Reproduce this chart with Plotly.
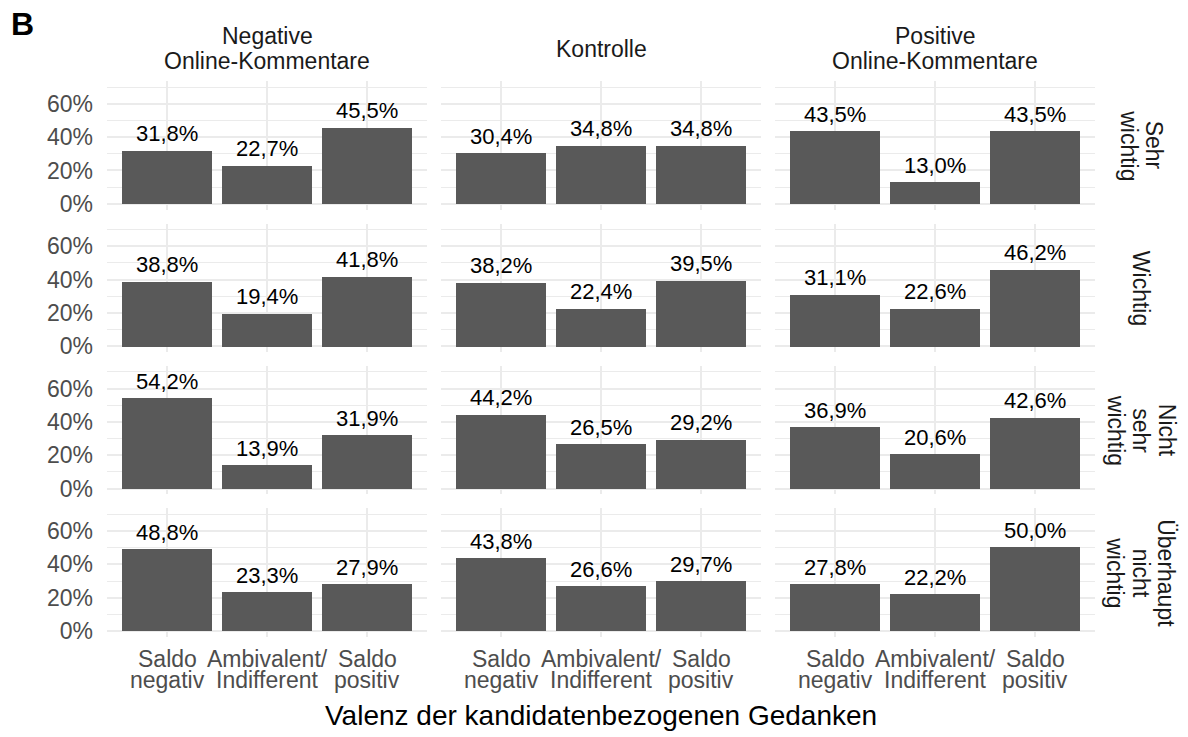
import plotly.graph_objects as go

# the page body keeps its default 8px margin; the figure is sized and offset
# so that it exactly fills the 1188x737 window
OFF = 8
W, H = 1188 - OFF, 737 - OFF

categories = ["Saldo\nnegativ", "Ambivalent/\nIndifferent", "Saldo\npositiv"]
columns = ["Negative\nOnline-Kommentare", "Kontrolle", "Positive\nOnline-Kommentare"]
rows = ["Sehr\nwichtig", "Wichtig", "Nicht\nsehr\nwichtig", "Überhaupt\nnicht\nwichtig"]
x_title = "Valenz der kandidatenbezogenen Gedanken"
panel_tag = "B"

# percentages per row (facet), per column (facet), per category
sehr_wichtig = [[31.8, 22.7, 45.5], [30.4, 34.8, 34.8], [43.5, 13.0, 43.5]]
wichtig = [[38.8, 19.4, 41.8], [38.2, 22.4, 39.5], [31.1, 22.6, 46.2]]
nicht_sehr_wichtig = [[54.2, 13.9, 31.9], [44.2, 26.5, 29.2], [36.9, 20.6, 42.6]]
ueberhaupt_nicht_wichtig = [[48.8, 23.3, 27.9], [43.8, 26.6, 29.7], [27.8, 22.2, 50.0]]
data = [sehr_wichtig, wichtig, nicht_sehr_wichtig, ueberhaupt_nicht_wichtig]

y_ticks = [0, 0.2, 0.4, 0.6]
y_minor = [0.1, 0.3, 0.5, 0.7]

FONT = "Liberation Sans, Arial, sans-serif"
BAR = "#595959"
GRID = "#ebebeb"
TICK_C = "#4d4d4d"
STRIP_C = "#1a1a1a"

col_left = [107, 441, 775]
col_w = 320
zero0, row_step = 205.7, 143.8
ymin, ymax = -0.035, 0.735
ppu = 168.4


def fx(p):
    return (p - OFF) / W


def fy(p):
    return 1 - (p - OFF) / H


fig = go.Figure()
layout = {}
annotations = []
k = 0
for r in range(4):
    z = zero0 + row_step * r
    top = z - ymax * ppu
    bot = z - ymin * ppu
    for c in range(3):
        k += 1
        xa = "x" if k == 1 else f"x{k}"
        ya = "y" if k == 1 else f"y{k}"
        vals = [v / 100 for v in data[r][c]]
        labels = [f"{v:.1f}".replace(".", ",") + "%" for v in data[r][c]]
        fig.add_trace(go.Bar(x=[1, 2, 3], y=vals, width=0.9, marker_color=BAR,
                             marker_line_width=0, xaxis=xa, yaxis=ya,
                             showlegend=False, hoverinfo="skip"))
        for i in range(3):
            annotations.append(dict(
                text=labels[i], x=i + 1, y=vals[i], xref=xa, yref=ya,
                xanchor="center", yanchor="middle", yshift=17, showarrow=False,
                font=dict(family=FONT, size=22, color="#000000")))
        kx = "xaxis" if k == 1 else f"xaxis{k}"
        ky = "yaxis" if k == 1 else f"yaxis{k}"
        layout[kx] = dict(
            domain=[fx(col_left[c]), fx(col_left[c] + col_w)],
            anchor=ya, range=[0.4, 3.6], tickvals=[1, 2, 3],
            showticklabels=False, showgrid=True, gridcolor=GRID, gridwidth=2,
            zeroline=False, showline=False, ticks="", fixedrange=True,
        )
        layout[ky] = dict(
            domain=[fy(bot), fy(top)], anchor=xa, range=[ymin, ymax],
            tickvals=y_ticks, tickformat=".0%", showticklabels=(c == 0),
            showgrid=True, gridcolor=GRID, gridwidth=2, zeroline=False,
            showline=False, ticks="",
            minor=dict(tickvals=y_minor, showgrid=True, gridcolor=GRID, gridwidth=1),
            tickfont=dict(family=FONT, size=23, color=TICK_C),
            ticklabelstandoff=13, fixedrange=True,
        )
        # category labels under the bottom row (two lines, tight line spacing)
        if r == 3:
            for i, cat in enumerate(categories):
                for j, line in enumerate(cat.split("\n")):
                    annotations.append(dict(
                        text=line, x=i + 1, y=fy(665 + 21.5 * j), xref=xa, yref="paper",
                        xanchor="center", yanchor="middle", showarrow=False,
                        font=dict(family=FONT, size=23, color=TICK_C)))

# top strips
for c in range(3):
    lines = columns[c].split("\n")
    n = len(lines)
    for j, line in enumerate(lines):
        yc = 49 + (j - (n - 1) / 2) * 25
        annotations.append(dict(
            text=line, x=fx(col_left[c] + col_w / 2), y=fy(yc),
            xref="paper", yref="paper", xanchor="center", yanchor="middle",
            showarrow=False, font=dict(family=FONT, size=23, color=STRIP_C)))

# right strips (rotated, read top to bottom)
for r in range(4):
    z = zero0 + row_step * r
    mid = z - (ymax + ymin) / 2 * ppu
    lines = rows[r].split("\n")
    n = len(lines)
    for j, line in enumerate(lines):
        xc = 1141 + ((n - 1) / 2 - j) * 25.5
        annotations.append(dict(
            text=line, x=fx(xc), y=fy(mid), xref="paper", yref="paper",
            xanchor="center", yanchor="middle", textangle=90, showarrow=False,
            font=dict(family=FONT, size=23, color=STRIP_C)))

annotations.append(dict(
    text=x_title, x=fx(601), y=fy(722), xref="paper", yref="paper",
    xanchor="center", yanchor="middle", showarrow=False,
    font=dict(family=FONT, size=28, color="#000000")))
annotations.append(dict(
    text=f"<b>{panel_tag}</b>", x=fx(9), y=fy(24), xref="paper", yref="paper",
    xanchor="left", yanchor="middle", showarrow=False, height=26,
    font=dict(family=FONT, size=32, color="#000000")))

fig.update_layout(
    width=W, height=H, margin=dict(l=0, r=0, t=0, b=0),
    paper_bgcolor="white", plot_bgcolor="white", bargap=0,
    annotations=annotations, **layout)

fig.write_html("out.html")
